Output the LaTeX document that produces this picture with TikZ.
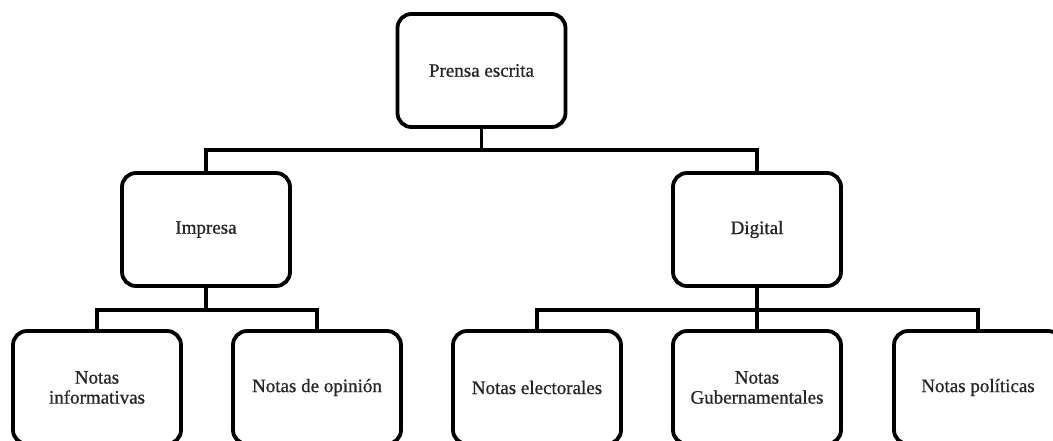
\documentclass[tikz,border=0pt]{standalone}
\usepackage{fontspec}
\setmainfont{Liberation Serif}
\newfontfamily\boxfont[FakeBold=0.8]{Liberation Serif}
\begin{document}
\begin{tikzpicture}[x=1pt,y=-1pt,
  box/.style={draw=black, line width=3.8pt, rounded corners=14pt, minimum width=168pt, minimum height=113pt, align=center, inner sep=2pt, font=\boxfont\fontsize{19}{20}\selectfont, text=black!85},
  conn/.style={draw=black, line width=3.2pt}]
\useasboundingbox (0,0) rectangle (1053,440);
\clip (0,0) rectangle (1053,440);
\node[box] (top) at (481.5,70.5) {Prensa escrita};
\node[box] (imp) at (206,229.5) {Impresa};
\node[box] (dig) at (757,229.5) {Digital};
\node[box] (n1) at (97,387.5) {Notas\\informativas};
\node[box] (n2) at (317,387.5) {Notas de opinión};
\node[box] (n3) at (537,387.5) {Notas electorales};
\node[box] (n4) at (757,387.5) {Notas\\Gubernamentales};
\node[box] (n5) at (978,387.5) {Notas políticas};
\coordinate (bus1) at (0,150);
\coordinate (bus2) at (0,310);
\draw[conn] (top.south) -- (top.south |- bus1);
\draw[conn] (imp.north) -- (imp.north |- bus1) -- (dig.north |- bus1) -- (dig.north);
\draw[conn] (imp.south) -- (imp.south |- bus2);
\draw[conn] (n1.north) -- (n1.north |- bus2) -- (n2.north |- bus2) -- (n2.north);
\draw[conn] (dig.south) -- (n4.north);
\draw[conn] (n3.north) -- (n3.north |- bus2) -- (n5.north |- bus2) -- (n5.north);
\end{tikzpicture}
\end{document}
